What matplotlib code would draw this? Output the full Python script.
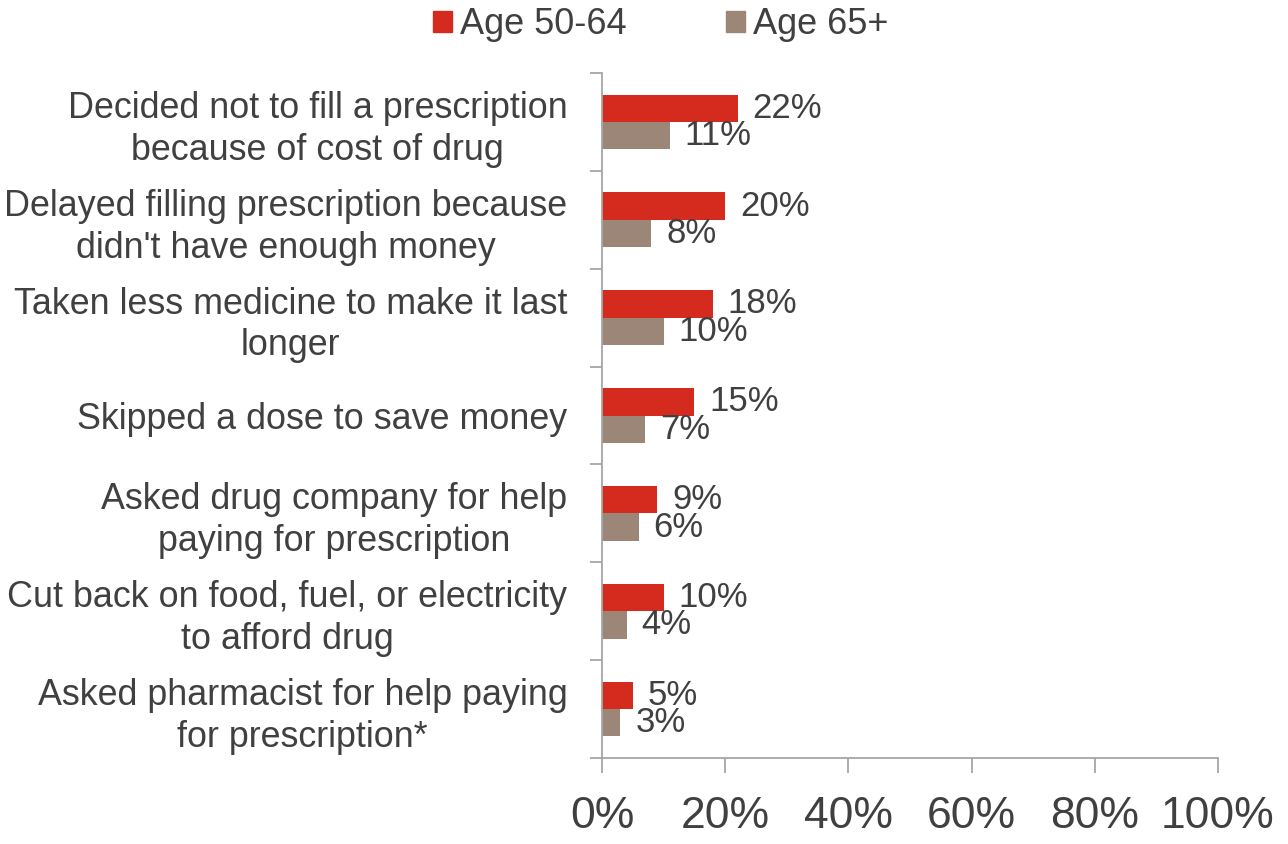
import matplotlib
matplotlib.use("Agg")
import matplotlib.pyplot as plt
from matplotlib.patches import Patch
import numpy as np

plt.rcParams['font.family'] = ['Liberation Sans Narrow', 'Liberation Sans', 'DejaVu Sans']

categories = [
    "Decided not to fill a prescription\nbecause of cost of drug",
    "Delayed filling prescription because\ndidn't have enough money",
    "Taken less medicine to make it last\nlonger",
    "Skipped a dose to save money",
    "Asked drug company for help\npaying for prescription",
    "Cut back on food, fuel, or electricity\nto afford drug",
    "Asked pharmacist for help paying\nfor prescription*",
]
age_50_64 = [22, 20, 18, 15, 9, 10, 5]
age_65_plus = [11, 8, 10, 7, 6, 4, 3]
series_names = ["Age 50-64", "Age 65+"]
x_ticks = [0, 20, 40, 60, 80, 100]
x_tick_labels = ["0%", "20%", "40%", "60%", "80%", "100%"]

RED = "#D52B1E"
BROWN = "#9C8677"
TEXT = "#404040"
AXIS = "#A6A6A6"

fig = plt.figure(figsize=(12.88, 8.44), dpi=100)
ax = fig.add_axes([602 / 1288, 1 - 758 / 844, (1218 - 602) / 1288, (758 - 73) / 844])

y = np.arange(len(categories))
h = 0.28
ax.barh(y - h / 2, age_50_64, height=h, color=RED, zorder=2)
ax.barh(y + h / 2, age_65_plus, height=h, color=BROWN, zorder=2)

for yi, v in zip(y, age_50_64):
    ax.text(v + 2.4, yi - h / 2, f"{v}%", va="center", ha="left", fontsize=25, color=TEXT)
for yi, v in zip(y, age_65_plus):
    ax.text(v + 2.4, yi + h / 2, f"{v}%", va="center", ha="left", fontsize=25, color=TEXT)

ax.set_xlim(0, 100)
ax.set_ylim(len(categories) - 0.5, -0.5)

ax.set_xticks(x_ticks)
ax.set_xticklabels(x_tick_labels, fontsize=32, color=TEXT)
ax.tick_params(axis="x", length=11, width=1.3, color=AXIS, pad=16)

ax.set_yticks(y)
ax.set_yticklabels(categories, fontsize=25.8, color=TEXT, linespacing=1.25,
                   multialignment="center")
ax.set_yticks(np.arange(-0.5, len(categories)), minor=True)
ax.tick_params(axis="y", which="major", length=0, pad=25)
ax.tick_params(axis="y", which="minor", length=9, width=1.3, color=AXIS)

for s in ["top", "right"]:
    ax.spines[s].set_visible(False)
for s in ["left", "bottom"]:
    ax.spines[s].set_color(AXIS)
    ax.spines[s].set_linewidth(1.3)

handles = [Patch(color=RED), Patch(color=BROWN)]
fig.legend(handles, series_names, loc="center", bbox_to_anchor=(0.513, 0.971),
           ncol=2, frameon=False, fontsize=26, handlelength=0.53, handleheight=0.53,
           handletextpad=0.22, columnspacing=2.75, labelcolor=TEXT)

fig.savefig("out.png", dpi=100)
